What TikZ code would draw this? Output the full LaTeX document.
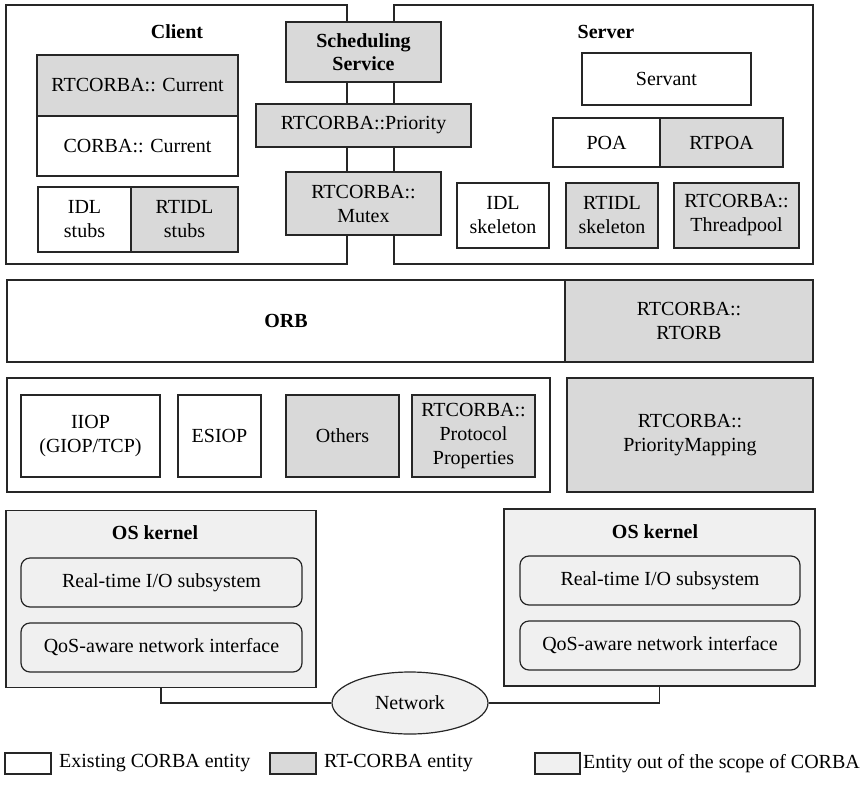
\documentclass[tikz,border=0pt]{standalone}
\usepackage{fontspec}
\setmainfont{Liberation Serif}
\usetikzlibrary{shapes.geometric}
\definecolor{rtgray}{HTML}{D9D9D9}
\definecolor{osgray}{HTML}{F0F0F0}
\definecolor{edge}{HTML}{262626}
\begin{document}
\begin{tikzpicture}[x=1pt,y=-1pt,
  every node/.style={font=\fontsize{20}{24}\selectfont},
  sz/.style 2 args={minimum width=#1pt, minimum height=#2pt},
  entity/.style={draw=edge, line width=1.2pt, inner sep=0pt, align=center, fill=white},
  corba/.style={entity, fill=white},
  rtcorba/.style={entity, fill=rtgray},
  outscope/.style={entity, fill=osgray},
  osunit/.style={outscope, rounded corners=9pt},
  frame/.style={draw=edge, line width=1.2pt, inner sep=0pt},
  title/.style={font=\fontsize{20}{24}\selectfont\bfseries, inner sep=0pt},
  wire/.style={draw=edge, line width=1.2pt},
  legendtext/.style={anchor=west, inner sep=0pt}]
\useasboundingbox (0,0) rectangle (865,785);

% client and server frames (drawn first, the shared services sit on top)
\node[frame, sz={341}{259}] (client) at (176.5,134.5) {};
\node[frame, sz={419}{259}] (server) at (603.5,134.5) {};
\node[title] (clientlbl) at (177,32) {Client};
\node[title] (serverlbl) at (606,32) {Server};

% client side
\node[rtcorba, sz={201}{61}] (rtcur) at (137.5,85.5) {RTCORBA:: Current};
\node[corba, sz={201}{60}] (corcur) at (137.5,146) {CORBA:: Current};
\node[corba, sz={93}{65}] (idlstub) at (84.5,219.5) {IDL\\stubs};
\node[rtcorba, sz={107}{65}] (rtidlstub) at (184.5,219.5) {RTIDL\\stubs};

% shared services
\node[rtcorba, sz={155}{60}, font=\fontsize{20}{23}\selectfont\bfseries] (sched) at (363.5,52) {Scheduling\\Service};
\node[rtcorba, sz={215}{43}] (prio) at (363.5,125.5) {RTCORBA::Priority};
\node[rtcorba, sz={155}{63}] (mutex) at (363.5,203.5) {RTCORBA::\\Mutex};

% server side
\node[corba, sz={169}{52}] (servant) at (666.5,79) {Servant};
\node[corba, sz={107}{49}] (poa) at (606.5,142.5) {POA};
\node[rtcorba, sz={123}{49}] (rtpoa) at (721.5,142.5) {RTPOA};
\node[corba, sz={92}{65}] (idlskel) at (503,215.5) {IDL\\skeleton};
\node[rtcorba, sz={92}{65}] (rtidlskel) at (612,215.5) {RTIDL\\skeleton};
\node[rtcorba, sz={125}{65}] (tpool) at (736.5,215.5) {RTCORBA::\\Threadpool};

% ORB layer
\node[corba, sz={558}{82}, font=\fontsize{20}{24}\selectfont\bfseries] (orb) at (286,321) {ORB};
\node[rtcorba, sz={248}{82}] (rtorb) at (689,321) {RTCORBA::\\RTORB};

% protocol layer
\node[corba, sz={543}{114}] (protframe) at (278.5,435) {};
\node[corba, sz={139}{82}] (iiop) at (90.5,436) {IIOP\\(GIOP/TCP)};
\node[corba, sz={83}{82}] (esiop) at (219.5,436) {ESIOP};
\node[rtcorba, sz={113}{82}] (others) at (342.5,436) {Others};
\node[rtcorba, sz={123}{82}] (protprops) at (473.5,436) {RTCORBA::\\Protocol\\Properties};
\node[rtcorba, sz={246}{114}] (primap) at (690,435) {RTCORBA::\\PriorityMapping};

% operating system kernels
\node[outscope, sz={310}{177}] (osl) at (161,599) {};
\node[title] (osllbl) at (155,533) {OS kernel};
\node[osunit, sz={281}{49}] (rtiol) at (161.5,582.5) {Real-time I/O subsystem};
\node[osunit, sz={281}{49}] (qosl) at (161.5,647.5) {QoS-aware network interface};

\node[outscope, sz={311}{177}] (osr) at (659.5,597.5) {};
\node[title] (osrlbl) at (655,532) {OS kernel};
\node[osunit, sz={280}{49}] (rtior) at (660,580.5) {Real-time I/O subsystem};
\node[osunit, sz={280}{49}] (qosr) at (660,645.5) {QoS-aware network interface};

% network
\node[entity, fill=osgray, ellipse, sz={156}{62}] (net) at (410,703) {Network};
\draw[wire] (osl.south) |- (net.west);
\draw[wire] (osr.south) |- (net.east);

% legend
\node[corba, sz={46}{21}] (lg1) at (28,763.5) {};
\node[legendtext] (lg1txt) at (59,763.5) {Existing CORBA entity};
\node[rtcorba, sz={46}{21}] (lg2) at (293,763.5) {};
\node[legendtext] (lg2txt) at (324,763.5) {RT-CORBA entity};
\node[outscope, sz={45}{21}] (lg3) at (557.5,763.5) {};
\node[legendtext] (lg3txt) at (583,763.5) {Entity out of the scope of CORBA};
\end{tikzpicture}
\end{document}
